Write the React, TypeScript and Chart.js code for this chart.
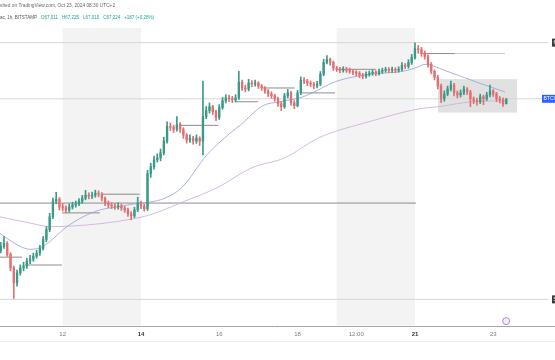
import React, { useEffect, useRef } from "react";
import { Chart, registerables } from "chart.js";

Chart.register(...registerables);

// ---- Candles: BTC/USD, 2-hour steps from Oct 10 10:00 (day-of-October units) ----
const START_DAY = 10 + 10 / 24;
const STEP_DAYS = 2 / 24;

const opens = [
  60800, 60984, 61109, 60651, 60069, 59445, 59861, 60069, 60152, 60360,
  60443, 60568, 60693, 60901, 61275, 61691, 62232, 62898, 62981, 62648,
  62606, 62523, 62648, 62731, 62773, 62898, 63022, 63147, 63106, 63147,
  63230, 63189, 63022, 62814, 62731, 62690, 62648, 62690, 62606, 62523,
  62357, 62274, 62523, 62814, 62690, 62565, 64062, 64354, 64645, 64728,
  64936, 65435, 66059, 66018, 65934, 66142, 65934, 65685, 65477, 65560,
  65435, 65560, 65435, 66475, 66725, 66891, 66683, 66434, 66850, 67141,
  67266, 67224, 67182, 67266, 67931, 67682, 67640, 67890, 67848, 67890,
  67765, 67682, 67557, 67432, 67349, 67224, 67016, 66891, 67349, 67474,
  67058, 66933, 67474, 68014, 67973, 67890, 67848, 67765, 67848, 68264,
  68763, 68888, 68763, 68514, 68472, 68430, 68472, 68430, 68390, 68347,
  68306, 68222, 68181, 68264, 68306, 68347, 68306, 68389, 68430, 68472,
  68430, 68472, 68430, 68472, 68638, 68600, 68763, 68971, 69346, 69304,
  69138, 69013, 68680, 68389, 68139, 67765, 67224, 67432, 67640, 67806,
  67474, 67390, 67474, 67640, 67515, 67224, 67141, 67099, 67307, 67224,
  67390, 67557, 67432, 67224, 67182, 67011,
];

const highs = [
  61150, 61400, 61180, 60720, 60150, 59980, 60200, 60310, 60480, 60600,
  60700, 60820, 61030, 61400, 61820, 62380, 63020, 63272, 63050, 62800,
  62700, 62780, 62850, 62900, 63000, 63140, 63355, 63250, 63280, 63360,
  63330, 63260, 63080, 62900, 62830, 62800, 62820, 62770, 62680, 62600,
  62450, 62640, 63064, 62900, 62760, 64200, 64500, 64800, 64900, 65100,
  65600, 66250, 66200, 66100, 66475, 66220, 66000, 65750, 65700, 65640,
  65700, 65620, 67973, 66900, 67050, 66950, 66750, 66980, 67280, 67400,
  67380, 67330, 67400, 68389, 68020, 67800, 68050, 68000, 68020, 67950,
  67830, 67740, 67620, 67520, 67420, 67300, 67100, 67450, 67620, 67540,
  67150, 67580, 68150, 68120, 68050, 67980, 67920, 67960, 68380, 68900,
  69054, 68950, 68820, 68600, 68560, 68580, 68560, 68520, 68470, 68420,
  68380, 68300, 68360, 68400, 68450, 68420, 68480, 68520, 68560, 68550,
  68570, 68540, 68580, 68760, 68720, 68880, 69100, 69595, 69480, 69400,
  69250, 69080, 68760, 68450, 68220, 67850, 67560, 67760, 67973, 67880,
  67560, 67600, 67760, 67700, 67580, 67300, 67250, 67420, 67380, 67500,
  67806, 67620, 67500, 67320, 67260, 67225,
];

const lows = [
  60700, 60900, 60560, 59950, 58779, 59300, 59760, 59950, 60050, 60250,
  60350, 60480, 60600, 60820, 61180, 61600, 62150, 62780, 62520, 62480,
  62400, 62430, 62560, 62640, 62700, 62800, 62950, 62990, 63000, 63060,
  63080, 62900, 62700, 62620, 62580, 62540, 62560, 62500, 62420, 62250,
  62107, 62200, 62450, 62580, 62470, 62500, 63900, 64250, 64550, 64600,
  64850, 65350, 65880, 65800, 65850, 65800, 65550, 65350, 65380, 65300,
  65340, 65250, 64853, 66380, 66620, 66560, 66300, 66350, 66780, 67050,
  67100, 67060, 67090, 67200, 67580, 67520, 67560, 67740, 67760, 67660,
  67580, 67450, 67320, 67250, 67120, 66900, 66725, 66820, 67260, 66950,
  66808, 66880, 67400, 67860, 67780, 67740, 67650, 67680, 67780, 68200,
  68700, 68650, 68420, 68380, 68330, 68350, 68340, 68300, 68250, 68200,
  68120, 68080, 68100, 68180, 68220, 68200, 68220, 68300, 68350, 68330,
  68340, 68330, 68350, 68400, 68500, 68520, 68680, 68900, 69150, 69020,
  68900, 68560, 68280, 68020, 67640, 67058, 67120, 67350, 67560, 67350,
  67260, 67300, 67400, 67400, 66891, 67020, 66950, 67020, 66974, 67150,
  67300, 67320, 67100, 67050, 66900, 67010,
];

const closes = [
  60984, 61109, 60651, 60069, 59445, 59861, 60069, 60152, 60360, 60443,
  60568, 60693, 60901, 61275, 61691, 62232, 62898, 62981, 62648, 62606,
  62523, 62648, 62731, 62773, 62898, 63022, 63147, 63106, 63147, 63230,
  63189, 63022, 62814, 62731, 62690, 62648, 62690, 62606, 62523, 62357,
  62274, 62523, 62814, 62690, 62565, 64062, 64354, 64645, 64728, 64936,
  65435, 66059, 66018, 65934, 66142, 65934, 65685, 65477, 65560, 65435,
  65560, 65435, 66475, 66725, 66891, 66683, 66434, 66850, 67141, 67266,
  67224, 67182, 67266, 67931, 67682, 67640, 67890, 67848, 67890, 67765,
  67682, 67557, 67432, 67349, 67224, 67016, 66891, 67349, 67474, 67058,
  66933, 67474, 68014, 67973, 67890, 67848, 67765, 67848, 68264, 68763,
  68888, 68763, 68514, 68472, 68430, 68472, 68430, 68390, 68347, 68306,
  68222, 68181, 68264, 68306, 68347, 68306, 68389, 68430, 68472, 68430,
  68472, 68430, 68472, 68638, 68600, 68763, 68971, 69346, 69304, 69138,
  69013, 68680, 68389, 68139, 67765, 67224, 67432, 67640, 67806, 67474,
  67390, 67474, 67640, 67515, 67224, 67141, 67099, 67307, 67224, 67390,
  67557, 67432, 67224, 67182, 67011, 67224,
];

// ---- Moving averages ----
const fastMaDays = [10.398, 10.909, 11.164, 11.496, 12.109, 12.518, 12.952, 13.387, 13.796, 14.23, 14.613, 15.048, 15.686, 16.274, 16.529, 17.117, 17.551, 18.139, 19.008, 19.851, 20.694, 21.052, 21.256, 21.818, 22.712, 23.3];
const fastMaValues = [61525, 60984, 60859, 60984, 61816, 62232, 62523, 62648, 62773, 62856, 63022, 63480, 64853, 65768, 66101, 66933, 67099, 67307, 67973, 68264, 68389, 68555, 68680, 68389, 67848, 67515];
const slowMaDays = [10.398, 11.241, 11.675, 12.952, 13.796, 14.23, 15.124, 15.967, 16.836, 17.679, 18.522, 19.851, 21.128, 21.588, 22.457, 23.3];
const slowMaValues = [62232, 61941, 61816, 61941, 62149, 62315, 62898, 63480, 64312, 64728, 65560, 66267, 66808, 66891, 67099, 67141];

// ---- Horizontal levels ----
const levelPrices = [62814, 60526, 60194, 62398, 63189, 66101, 67099, 67682, 67474, 68472, 69138, 69138];
const levelStarts = [10.398, 10.398, 11.04, 11.98, 13.0, 15.0, 16.4, 17.12, 18.11, 19.03, 21.2, 22.02];
const levelEnds = [21.03, 10.96, 11.98, 12.95, 13.97, 15.97, 16.99, 17.93, 18.96, 20.0, 22.02, 23.3];
const fullLinePrices = [69600, 67224, 58740];

const weekendBands = [[12, 14], [19, 21]];
const rangeBoxDays = [21.59, 23.61];
const rangeBoxPrices = [68056, 66642];

const xTickDays = [12, 14, 16, 18, 19.5, 21, 23];
const xTickLabels = ["12", "14", "16", "18", "12:00", "21", "23"];
const boldTickLabels = ["14", "21"];

const priceLabelValues = [69600, 67224, 58740];
const priceLabelTexts = ["69,600.00", "BTCUSD 67,224", "58,740.00"];

const iconDay = 23.33;
const iconPrice = 57822;

const headerLine1 = "shed on TradingView.com, Oct 23, 2024 08:30 UTC+2";
const headerSymbol = "ac, 1h, BITSTAMP";
const headerValues = ["O67,011", "H67,225", "L67,010", "C67,224", "+187 (+0.28%)"];

// ---- view ----
const X_MIN = 10.398;
const X_MAX = 24.399;
const Y_MIN = 57614;
const Y_MAX = 70219;

const GREEN = "#3a9a88";
const RED = "#e27073";
const FONT = '"Liberation Sans", Arial, sans-serif';

const overlayPlugin = {
  id: "overlay",
  beforeDraw(chart: any) {
    const { ctx, chartArea, scales } = chart;
    const x = scales.x;
    const y = scales.y;
    ctx.save();
    ctx.fillStyle = "#f3f3f3";
    weekendBands.forEach(([a, b]) => {
      const x0 = x.getPixelForValue(a);
      const x1 = x.getPixelForValue(b);
      ctx.fillRect(x0, chartArea.top, x1 - x0, chartArea.bottom - chartArea.top - 0.5);
    });
    const bx0 = x.getPixelForValue(rangeBoxDays[0]);
    const bx1 = x.getPixelForValue(rangeBoxDays[1]);
    const by0 = y.getPixelForValue(rangeBoxPrices[0]);
    const by1 = y.getPixelForValue(rangeBoxPrices[1]);
    ctx.fillStyle = "rgba(200,200,200,0.55)";
    ctx.fillRect(bx0, by0, bx1 - bx0, by1 - by0);
    ctx.restore();
  },
  afterDraw(chart: any) {
    const { ctx, chartArea, scales, width } = chart;
    const y = scales.y;
    ctx.save();
    // axis line continues under the price scale
    ctx.strokeStyle = "#a8a8a8";
    ctx.lineWidth = 1;
    ctx.beginPath();
    ctx.moveTo(chartArea.right, Math.round(chartArea.bottom) + 0.5);
    ctx.lineTo(width, Math.round(chartArea.bottom) + 0.5);
    ctx.stroke();
    // faint separator under the time scale
    ctx.strokeStyle = "#ededed";
    ctx.beginPath();
    ctx.moveTo(0, Math.round(chartArea.bottom) + 15.5);
    ctx.lineTo(width, Math.round(chartArea.bottom) + 15.5);
    ctx.stroke();
    // header
    ctx.textBaseline = "middle";
    ctx.textAlign = "left";
    ctx.font = `4.8px ${FONT}`;
    ctx.fillStyle = "#666";
    ctx.fillText(headerLine1, 0, 5.5);
    ctx.font = `4.5px ${FONT}`;
    ctx.fillStyle = "#555";
    ctx.fillText(headerSymbol, 0, 17.5);
    let hx = Math.max(41, ctx.measureText(headerSymbol).width + 3);
    ctx.fillStyle = "#22a08f";
    headerValues.forEach((t) => {
      ctx.fillText(t, hx, 17.5);
      hx += ctx.measureText(t).width + 4;
    });
    // right price labels
    ctx.font = `5px ${FONT}`;
    priceLabelValues.forEach((v, i) => {
      const py = y.getPixelForValue(v);
      const isSym = i === 1;
      const lx = isSym ? chartArea.right - 6 : chartArea.right + 4;
      ctx.fillStyle = isSym ? "#2962ff" : "#3a3a3a";
      ctx.fillRect(lx, py - 4, 60, 8);
      ctx.fillStyle = "#ffffff";
      ctx.fillText(priceLabelTexts[i], lx + 1.5, py + 0.3);
    });
    ctx.restore();
  },
};

export default function App() {
  const ref = useRef<HTMLCanvasElement>(null);

  useEffect(() => {
    const canvas = ref.current;
    if (!canvas) return;
    const times = closes.map((_, i) => START_DAY + i * STEP_DAYS);
    const colors = closes.map((c, i) => (c >= opens[i] ? GREEN : RED));

    const datasets: any[] = [
      {
        type: "bar",
        data: times.map((t, i) => ({ x: t, y: [opens[i], closes[i]] })),
        backgroundColor: colors,
        borderWidth: 0,
        barThickness: 1.7,
        minBarLength: 1,
        grouped: false,
        order: 0,
      },
      {
        type: "bar",
        data: times.map((t, i) => ({ x: t, y: [lows[i], highs[i]] })),
        backgroundColor: colors,
        borderWidth: 0,
        barThickness: 1,
        grouped: false,
        order: 1,
      },
      {
        type: "line",
        data: fastMaDays.map((d, i) => ({ x: d, y: fastMaValues[i] })),
        borderColor: "rgba(150,160,215,0.8)",
        borderWidth: 1,
        pointRadius: 0,
        cubicInterpolationMode: "monotone",
        order: 2,
      },
      {
        type: "line",
        data: slowMaDays.map((d, i) => ({ x: d, y: slowMaValues[i] })),
        borderColor: "rgba(205,175,220,0.85)",
        borderWidth: 1,
        pointRadius: 0,
        cubicInterpolationMode: "monotone",
        order: 2,
      },
      ...levelPrices.map((p, i) => ({
        type: "line",
        data: [
          { x: levelStarts[i], y: p },
          { x: levelEnds[i], y: p },
        ],
        borderColor: i === levelPrices.length - 1 ? "#cdcdcd" : "#8c8c8c",
        borderWidth: 1,
        pointRadius: 0,
        order: 3,
      })),
      ...fullLinePrices.map((p) => ({
        type: "line",
        data: [
          { x: X_MIN, y: p },
          { x: X_MAX, y: p },
        ],
        borderColor: "#d6d6d6",
        borderWidth: 1,
        pointRadius: 0,
        order: 4,
      })),
      {
        type: "line",
        data: [{ x: iconDay, y: iconPrice }],
        showLine: false,
        pointRadius: 3.5,
        pointBorderWidth: 1,
        pointBorderColor: "#b089cc",
        pointBackgroundColor: "rgba(176,137,204,0.15)",
        order: 5,
      },
    ];

    const chart = new Chart(canvas, {
      type: "bar",
      data: { datasets },
      options: {
        animation: false,
        responsive: false,
        devicePixelRatio: 1,
        layout: { autoPadding: false, padding: { top: 28, bottom: 16.8, left: 0, right: 7 } },
        plugins: { legend: { display: false }, tooltip: { enabled: false } },
        scales: {
          x: {
            type: "linear",
            min: X_MIN,
            max: X_MAX,
            offset: false,
            grid: { display: false, drawTicks: false },
            border: { display: true, color: "#a8a8a8", width: 1 },
            afterBuildTicks: (scale: any) => {
              scale.ticks = xTickDays.map((v) => ({ value: v }));
            },
            ticks: {
              autoSkip: false,
              maxRotation: 0,
              padding: 5,
              callback: (_v: any, i: number) => xTickLabels[i],
              color: (c: any) => (boldTickLabels.includes(xTickLabels[c.index]) ? "#333" : "#7a7a7a"),
              font: (c: any) => ({
                family: FONT,
                size: 6,
                weight: boldTickLabels.includes(xTickLabels[c.index]) ? "bold" : "normal",
              }),
            },
          },
          y: {
            type: "linear",
            display: false,
            min: Y_MIN,
            max: Y_MAX,
          },
        },
      } as any,
      plugins: [overlayPlugin],
    });

    return () => chart.destroy();
  }, []);

  return (
    <div style={{ position: "fixed", left: 0, top: 0, width: 555, height: 360, background: "#ffffff" }}>
      <canvas ref={ref} width={555} height={360} style={{ display: "block", width: 555, height: 360 }} />
    </div>
  );
}
